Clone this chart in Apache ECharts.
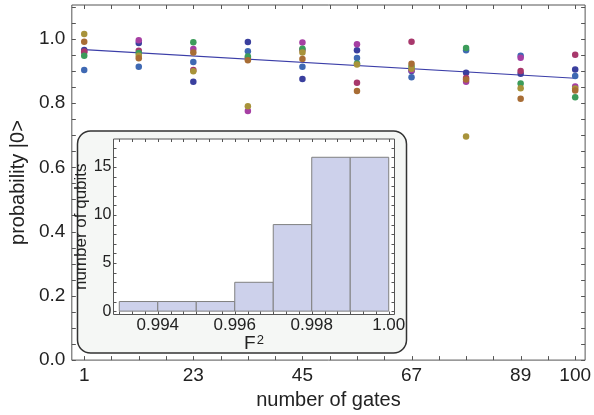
<!DOCTYPE html>
<html>
<head>
<meta charset="utf-8">
<script src="https://cdn.jsdelivr.net/npm/echarts@6/dist/echarts.min.js"></script>
<style>
html, body { margin: 0; padding: 0; background: #fff; }
#chart { width: 594px; height: 415px; }
</style>
</head>
<body>
<div id="chart"></div>
<script>
// gate counts on the x axis
var gates = [1, 12, 23, 34, 45, 56, 67, 78, 89, 100];

// probability |0> for each qubit (one colour per qubit)
var qDarkBlue = [0.965, 0.987, 0.866, 0.990, 0.875, 0.964, 0.900, 0.894, 0.891, 0.904];
var qBlue     = [0.903, 0.913, 0.928, 0.961, 0.913, 0.940, 0.880, 0.964, 0.947, 0.884];
var qMagenta  = [0.958, 0.995, 0.968, 0.775, 0.988, 0.983, 0.902, 0.866, 0.941, 0.851];
var qCrimson  = [0.960, 0.963, 0.903, 0.940, 0.965, 0.863, 0.991, 0.878, 0.900, 0.950];
var qGreen    = [0.947, 0.956, 0.989, 0.945, 0.969, 0.923, 0.914, 0.971, 0.861, 0.818];
var qOlive    = [1.015, 0.947, 0.899, 0.790, 0.957, 0.920, 0.907, 0.696, 0.846, 0.845];
var qBrown    = [0.991, 0.939, 0.957, 0.933, 0.937, 0.837, 0.922, 0.873, 0.813, 0.839];

// fitted decay line (end points)
var fitX = [1, 100];
var fitY = [0.966, 0.877];

// tick labels
var xLabels = [1, 23, 45, 67, 89, 100];
var yLabels = [0, 0.2, 0.4, 0.6, 0.8, 1.0];

// inset histogram of F^2
var binEdges = [0.993, 0.994, 0.995, 0.996, 0.997, 0.998, 0.999, 1.000];
var counts = [1, 1, 1, 3, 9, 16, 16];
var histXLabels = [0.994, 0.996, 0.998, 1.000];
var histYLabels = [0, 5, 10, 15];

var FONT = "'Liberation Sans', Helvetica, Arial, sans-serif";
var FRAME = '#555';

var qubits = [
  { data: qDarkBlue, color: '#3a3f9e' },
  { data: qBlue, color: '#3f69b3' },
  { data: qMagenta, color: '#a63fa3' },
  { data: qCrimson, color: '#a8386c' },
  { data: qGreen, color: '#3c9c5a' },
  { data: qOlive, color: '#a8933a' },
  { data: qBrown, color: '#a86d35' }
];

// frame tick positions (drawn on all four sides, pointing inward)
var xTicks = [];
for (var i = 0; i <= 18; i++) xTicks.push(1 + i * 5.5);
var yTicks = [];
for (var j = 0; j <= 22; j++) yTicks.push(+(j * 0.05).toFixed(2));
var hxTicks = [];
for (var k = 0; k <= 21; k++) hxTicks.push(+(0.993 + k * 0.001 / 3).toFixed(6));
var hyTicks = [];
for (var m = 0; m <= 17; m++) hyTicks.push(m);

var series = qubits.map(function (q) {
  return {
    type: 'scatter',
    xAxisIndex: 0, yAxisIndex: 0,
    symbolSize: 6.5,
    itemStyle: { color: q.color, opacity: 1 },
    data: gates.map(function (g, i) { return [g, q.data[i]]; }),
    z: 3
  };
});

series.push({
  type: 'line',
  xAxisIndex: 0, yAxisIndex: 0,
  showSymbol: false,
  lineStyle: { color: '#3b3ea8', width: 1.2 },
  data: fitX.map(function (x, i) { return [x, fitY[i]]; }),
  z: 2
});

series.push({
  type: 'custom',
  xAxisIndex: 1, yAxisIndex: 1,
  z: 8,
  renderItem: function (params, api) {
    var p0 = api.coord([api.value(0), api.value(2)]);
    var p1 = api.coord([api.value(1), 0]);
    return {
      type: 'rect',
      shape: { x: p0[0], y: p0[1], width: p1[0] - p0[0], height: p1[1] - p0[1] },
      style: { fill: '#cdd1eb', stroke: '#808080', lineWidth: 1 }
    };
  },
  data: counts.map(function (c, i) { return [binEdges[i], binEdges[i + 1], c]; })
});

// inward frame ticks, placed through the axis scales
function tickSeries(axisIdx, values, dir, len, z) {
  return {
    type: 'custom',
    xAxisIndex: axisIdx, yAxisIndex: axisIdx,
    silent: true, clip: false, z: z,
    renderItem: function (params, api) {
      var cs = params.coordSys;
      var style = { stroke: FRAME, lineWidth: 1 };
      if (dir === 'x') {
        var px = Math.round(api.coord([api.value(0), api.value(1)])[0]) + 0.5;
        return { type: 'group', children: [
          { type: 'line', shape: { x1: px, y1: cs.y + cs.height, x2: px, y2: cs.y + cs.height - len }, style: style },
          { type: 'line', shape: { x1: px, y1: cs.y, x2: px, y2: cs.y + len }, style: style }
        ] };
      }
      var py = Math.round(api.coord([api.value(0), api.value(1)])[1]) + 0.5;
      return { type: 'group', children: [
        { type: 'line', shape: { x1: cs.x, y1: py, x2: cs.x + len, y2: py }, style: style },
        { type: 'line', shape: { x1: cs.x + cs.width, y1: py, x2: cs.x + cs.width - len, y2: py }, style: style }
      ] };
    },
    data: values
  };
}

series.push(tickSeries(0, xTicks.map(function (v) { return [v, 0.5]; }), 'x', 4, 4));
series.push(tickSeries(0, yTicks.map(function (v) { return [50, v]; }), 'y', 4, 4));
series.push(tickSeries(1, hxTicks.map(function (v) { return [v, 5]; }), 'x', 3, 9));
series.push(tickSeries(1, hyTicks.map(function (v) { return [0.996, v]; }), 'y', 3, 9));

function plainAxis(extra) {
  var base = {
    type: 'value',
    axisLine: { show: false },
    splitLine: { show: false },
    axisTick: { show: false }
  };
  return Object.assign(base, extra);
}

var chart = echarts.init(document.getElementById('chart'));
chart.setOption({
  animation: false,
  textStyle: { fontFamily: FONT },
  grid: [
    { left: 69.5, right: 4.5, top: 5, bottom: 53.5, show: true,
      borderColor: FRAME, borderWidth: 1, backgroundColor: 'transparent' },
    { left: 113.5, right: 199.5, top: 139, bottom: 100.5, show: true, z: 5,
      borderColor: FRAME, borderWidth: 1, backgroundColor: '#fff' }
  ],
  graphic: [{
    type: 'rect', z: 1,
    shape: { x: 77.5, y: 131, width: 329, height: 222, r: 13 },
    style: { fill: '#f5f7f5', stroke: '#333', lineWidth: 1.5 }
  }],
  xAxis: [
    plainAxis({
      gridIndex: 0, min: -1.5, max: 102, position: 'bottom',
      axisLabel: { customValues: xLabels, fontSize: 19, color: '#222', margin: 6, fontFamily: FONT },
      name: 'number of gates', nameLocation: 'middle', nameGap: 25,
      nameTextStyle: { fontSize: 20, color: '#222', fontFamily: FONT }
    }),
    plainAxis({
      gridIndex: 1, min: 0.99285, max: 1.00015, position: 'bottom', z: 6,
      axisLabel: { customValues: histXLabels, fontSize: 17, color: '#222', margin: 2, fontFamily: FONT,
        formatter: function (v) { return v >= 1 ? '1.00' : v.toFixed(3); } },
      name: '{f|F}{s|2}', nameLocation: 'middle', nameGap: 10,
      nameTextStyle: {
        fontSize: 18, color: '#222', fontFamily: FONT,
        rich: {
          f: { fontSize: 19, color: '#222', fontFamily: FONT },
          s: { fontSize: 13, color: '#222', fontFamily: FONT, verticalAlign: 'top', padding: [0, 0, 6, 1] }
        }
      }
    })
  ],
  yAxis: [
    plainAxis({
      gridIndex: 0, min: 0, max: 1.105, position: 'left',
      axisLabel: { customValues: yLabels, fontSize: 19, color: '#222', margin: 6.5, fontFamily: FONT,
        formatter: function (v) { return v.toFixed(1); } },
      name: 'probability |0>', nameLocation: 'middle', nameGap: 42,
      nameTextStyle: { fontSize: 20, color: '#222', fontFamily: FONT }
    }),
    plainAxis({
      gridIndex: 1, min: -0.35, max: 17.9, position: 'left', z: 6,
      axisLabel: { customValues: histYLabels, fontSize: 16, color: '#222', margin: 2, fontFamily: FONT },
      name: 'number of qubits', nameLocation: 'middle', nameGap: 21,
      nameTextStyle: { fontSize: 17, color: '#222', fontFamily: FONT }
    })
  ],
  series: series
});
</script>
</body>
</html>
